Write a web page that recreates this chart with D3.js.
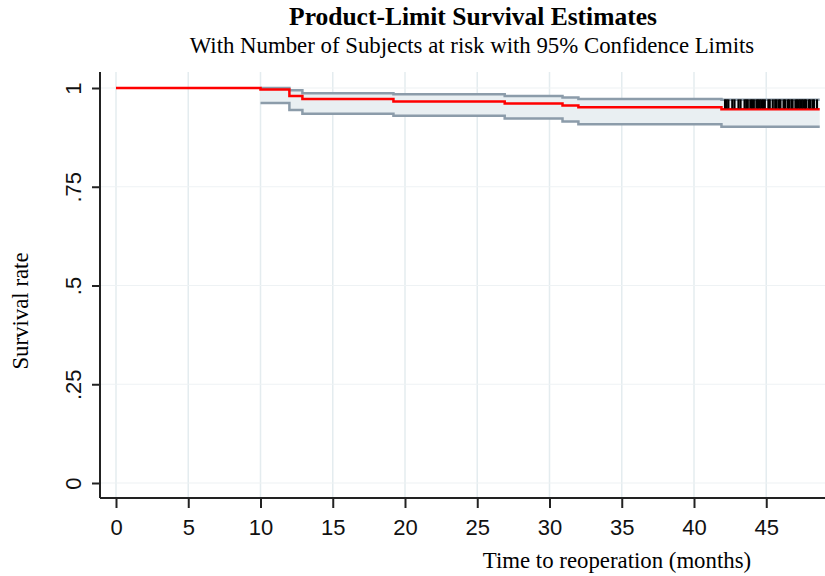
<!DOCTYPE html>
<html>
<head>
<meta charset="utf-8">
<script src="https://cdn.jsdelivr.net/npm/d3@7"></script>
<style>
  body { margin: 0; background: #fff; }
  svg { display: block; }
</style>
</head>
<body>
<div id="chart"></div>
<script>
// Kaplan-Meier steps
const stepTimes = [0, 10, 12, 12.9, 19.2, 26.9, 30.9, 32, 41.9];
const survival = [1.0, 0.996, 0.980, 0.972, 0.966, 0.961, 0.956, 0.951, 0.946];
const upperCI = [1.0, 1.0, 0.994, 0.987, 0.984, 0.980, 0.976, 0.972, 0.970];
const lowerCI = [1.0, 0.962, 0.944, 0.935, 0.930, 0.923, 0.915, 0.908, 0.902];
const endTime = 48.7;
const censorTimes = [
  42.15, 42.26, 42.38, 42.65, 42.8, 43.08, 43.22, 43.5, 43.62, 43.72,
  43.9, 44.02, 44.14, 44.32, 44.43, 44.55, 44.66, 44.78, 44.9, 45.15,
  45.24, 45.45, 45.62, 45.72, 45.88, 45.98, 46.2, 46.3, 46.48, 46.58,
  46.74, 46.82, 47.02, 47.13, 47.24, 47.35, 47.46, 47.57, 47.68, 47.77,
  47.95, 48.04, 48.2, 48.3, 48.51
];
const xTicks = [0, 5, 10, 15, 20, 25, 30, 35, 40, 45];
const yTicks = [0, 0.25, 0.5, 0.75, 1];
const yTickLabels = ['0', '.25', '.5', '.75', '1'];

const width = 825;
const height = 576;

const svg = d3.select('#chart')
  .append('svg')
  .attr('width', width)
  .attr('height', height);

const x = d3.scaleLinear().domain([0, 49]).range([116, 824.05]);
const y = d3.scaleLinear().domain([0, 1]).range([483, 88]);

const axisLeft = 100;
const axisBottom = 498;
const plotTop = 72;

// grid
svg.append('g')
  .selectAll('line.vgrid')
  .data(xTicks)
  .enter()
  .append('line')
  .attr('x1', (d) => x(d))
  .attr('x2', (d) => x(d))
  .attr('y1', plotTop)
  .attr('y2', axisBottom)
  .style('stroke', '#e4ecef')
  .style('stroke-width', 1.5);

svg.append('g')
  .selectAll('line.hgrid')
  .data(yTicks)
  .enter()
  .append('line')
  .attr('x1', axisLeft)
  .attr('x2', width)
  .attr('y1', (d) => y(d))
  .attr('y2', (d) => y(d))
  .style('stroke', '#eef2f4')
  .style('stroke-width', 1.2);

// confidence band
const ciData = stepTimes.map((t, i) => ({ t, lo: lowerCI[i], hi: upperCI[i] }))
  .filter((d) => d.t >= 10);
ciData.push({ t: endTime, lo: lowerCI[lowerCI.length - 1], hi: upperCI[upperCI.length - 1] });

const band = d3.area()
  .x((d) => x(d.t))
  .y0((d) => y(d.lo))
  .y1((d) => y(d.hi))
  .curve(d3.curveStepAfter);

svg.append('path')
  .datum(ciData)
  .attr('d', band)
  .style('fill', '#e9eff2')
  .style('stroke', 'none');

const ciLine = (key) => d3.line()
  .x((d) => x(d.t))
  .y((d) => y(d[key]))
  .curve(d3.curveStepAfter);

['hi', 'lo'].forEach((k) => {
  svg.append('path')
    .datum(ciData)
    .attr('d', ciLine(k))
    .style('fill', 'none')
    .style('stroke', '#8c9caa')
    .style('stroke-width', 2.5);
});

// survival curve
const kmData = stepTimes.map((t, i) => ({ t, s: survival[i] }));
kmData.push({ t: endTime, s: survival[survival.length - 1] });

svg.append('path')
  .datum(kmData)
  .attr('d', d3.line().x((d) => x(d.t)).y((d) => y(d.s)).curve(d3.curveStepAfter))
  .style('fill', 'none')
  .style('stroke', '#ff0000')
  .style('stroke-width', 2.5);

// censor marks
const bisect = d3.bisector((d) => d).right;
const survAt = (t) => survival[Math.max(0, bisect(stepTimes, t) - 1)];

svg.append('g')
  .selectAll('line.censor')
  .data(censorTimes)
  .enter()
  .append('line')
  .attr('x1', (d) => x(d))
  .attr('x2', (d) => x(d))
  .attr('y1', (d) => y(survAt(d)) - 1)
  .attr('y2', (d) => y(survAt(d)) - 10)
  .style('stroke', '#000')
  .style('stroke-width', 2.2);

// axes
const xAxis = svg.append('g')
  .attr('transform', `translate(0,${axisBottom})`)
  .call(d3.axisBottom(x).tickValues(xTicks).tickSize(10).tickPadding(11).tickFormat(d3.format('d')));
xAxis.select('.domain').attr('d', `M${axisLeft},0H${width}`);

const yAxis = svg.append('g')
  .attr('transform', `translate(${axisLeft},0)`)
  .call(d3.axisLeft(y).tickValues(yTicks).tickSize(8).tickFormat((d, i) => yTickLabels[i]));
yAxis.select('.domain').attr('d', `M0,${plotTop}V${axisBottom}`);

svg.selectAll('.domain')
  .style('stroke', '#222')
  .style('stroke-width', 2);
svg.selectAll('.tick line')
  .style('stroke', '#222')
  .style('stroke-width', 2);

xAxis.selectAll('text')
  .style('font-family', '"Liberation Sans", Arial, sans-serif')
  .style('font-size', '22px')
  .style('fill', '#111');

yAxis.selectAll('text')
  .attr('x', null)
  .attr('dy', null)
  .attr('transform', 'translate(-19,0) rotate(-90)')
  .style('text-anchor', 'middle')
  .style('font-family', '"Liberation Sans", Arial, sans-serif')
  .style('font-size', '22px')
  .style('fill', '#111');

// titles
svg.append('text')
  .attr('x', 473)
  .attr('y', 25)
  .style('text-anchor', 'middle')
  .style('font-family', '"Liberation Serif", "Times New Roman", serif')
  .style('font-weight', 'bold')
  .style('font-size', '25.5px')
  .text('Product-Limit Survival Estimates');

svg.append('text')
  .attr('x', 472)
  .attr('y', 53)
  .style('text-anchor', 'middle')
  .style('font-family', '"Liberation Serif", "Times New Roman", serif')
  .style('font-size', '22.8px')
  .text('With Number of Subjects at risk with 95% Confidence Limits');

svg.append('text')
  .attr('x', 617)
  .attr('y', 568)
  .style('text-anchor', 'middle')
  .style('font-family', '"Liberation Serif", "Times New Roman", serif')
  .style('font-size', '22.8px')
  .text('Time to reoperation (months)');

svg.append('text')
  .attr('transform', 'translate(28,311) rotate(-90)')
  .style('text-anchor', 'middle')
  .style('font-family', '"Liberation Serif", "Times New Roman", serif')
  .style('font-size', '22.8px')
  .text('Survival rate');
</script>
</body>
</html>
